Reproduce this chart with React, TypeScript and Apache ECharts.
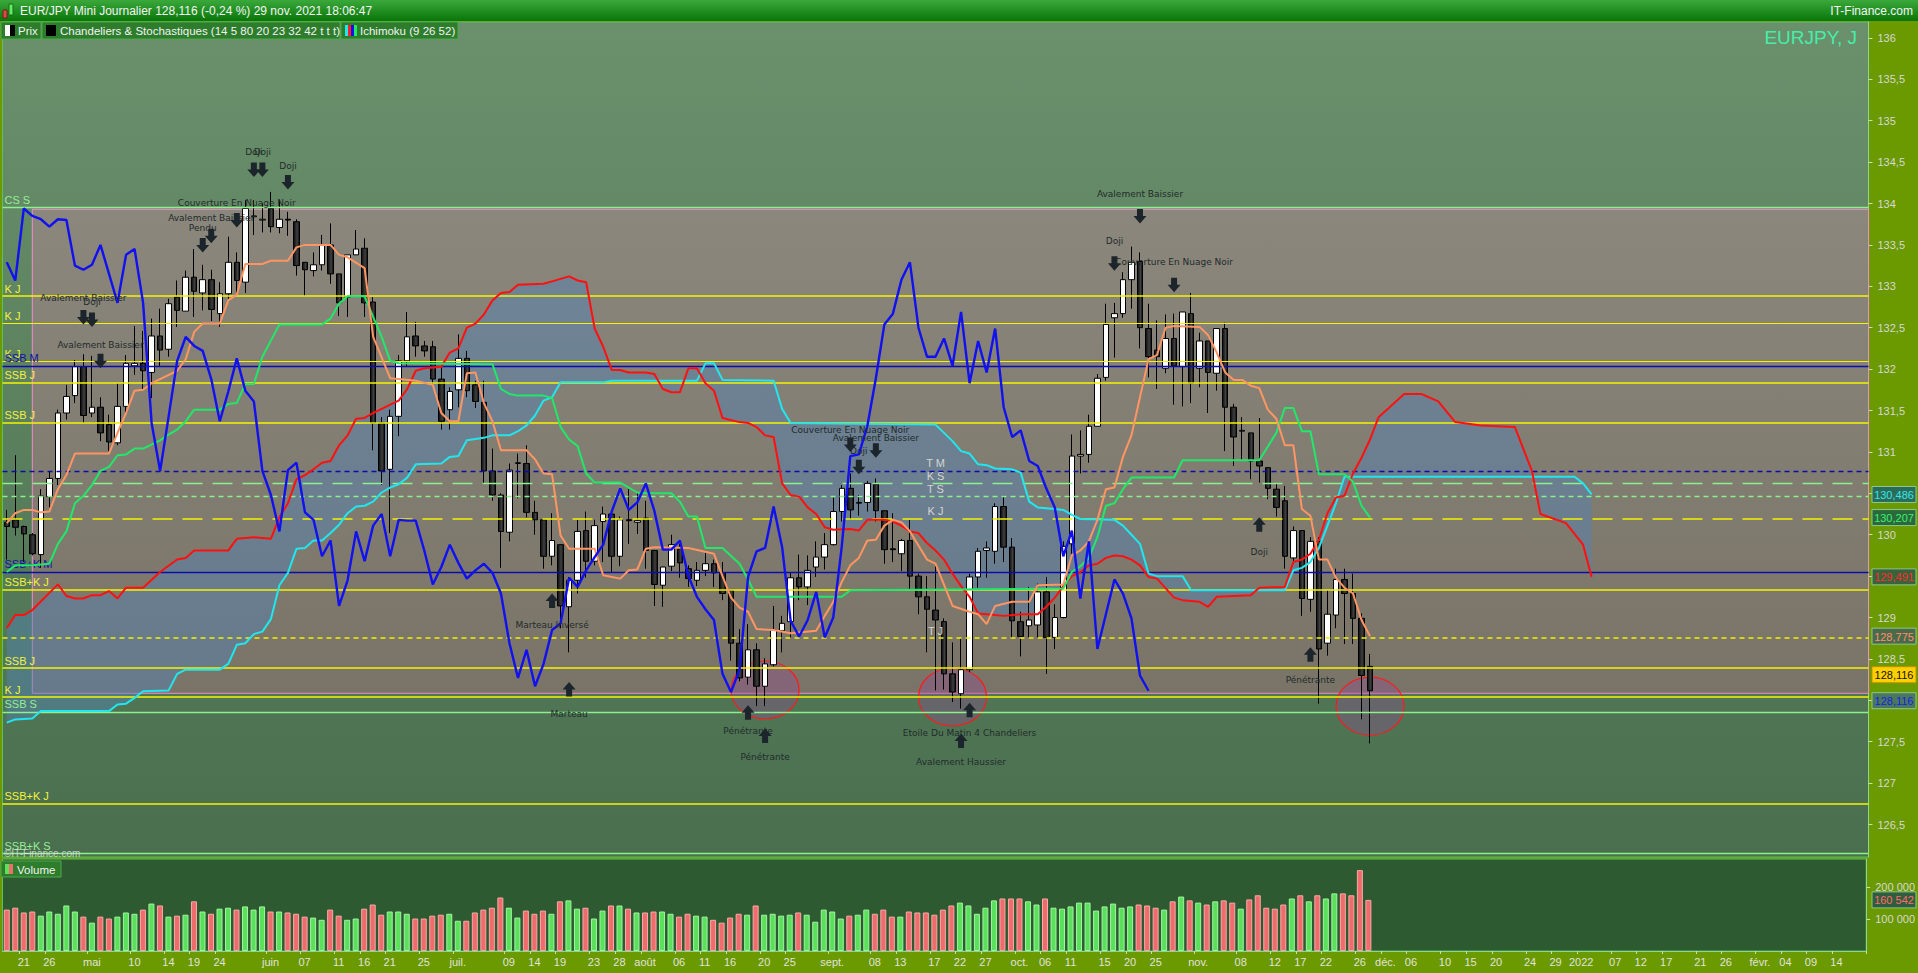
import React, { useEffect, useRef } from 'react';
import * as echarts from 'echarts';

// ---------- DATA ----------
const firstDay = '2021-04-19';
const dayCount = 219; // weekdays shown on the axis (history + future)

// [open, high, low, close]
const candles: number[][] = [
  [130.15,130.30,129.70,130.10],[130.18,130.96,129.99,130.09],[130.10,130.11,129.67,130.01],[130.00,130.02,129.75,129.77],
  [129.76,130.55,129.60,130.47],[130.46,130.77,130.33,130.68],[130.68,131.51,130.60,131.47],[131.47,131.81,131.39,131.67],
  [131.68,132.11,131.59,132.03],[132.03,132.18,131.35,131.44],[131.47,132.16,131.42,131.54],[131.54,131.66,131.13,131.23],
  [131.33,131.45,131.01,131.12],[131.11,131.83,131.08,131.55],[131.55,132.17,131.47,132.07],[132.04,132.52,131.93,132.07],
  [132.07,132.46,131.76,131.98],[131.96,132.61,131.65,132.40],[132.40,132.73,132.03,132.23],[132.24,132.85,132.15,132.79],
  [132.87,133.07,132.51,132.71],[132.70,133.19,132.70,133.11],[133.11,133.45,132.63,132.94],[132.92,133.26,132.71,133.08],
  [133.08,133.20,132.58,132.72],[132.67,133.05,132.51,132.91],[132.91,133.60,132.85,133.29],[133.29,133.41,132.92,133.07],
  [133.05,134.04,132.92,133.94],[133.84,134.04,133.62,133.85],[133.80,134.00,133.65,133.81],[133.94,134.14,133.65,133.72],
  [133.71,134.04,133.64,133.81],[133.81,133.90,133.61,133.80],[133.78,133.81,133.13,133.25],[133.29,133.29,132.88,133.20],
  [133.19,133.41,133.12,133.26],[133.26,133.62,133.19,133.50],[133.50,133.76,133.03,133.15],[133.15,133.15,132.64,132.80],
  [132.87,133.38,132.63,133.38],[133.38,133.68,133.38,133.45],[133.46,133.58,132.63,132.80],[132.81,132.87,131.02,131.35],
  [131.35,131.42,130.60,130.77],[130.79,131.51,130.02,131.43],[131.43,132.17,131.19,132.10],[132.10,132.69,132.03,132.39],
  [132.40,132.57,132.15,132.28],[132.28,132.34,132.15,132.22],[132.27,132.34,131.81,131.88],[131.88,132.05,131.27,131.37],
  [131.51,131.78,131.27,131.73],[131.75,132.42,131.54,132.13],[132.13,132.22,131.66,131.74],[131.81,131.86,131.53,131.61],
  [131.60,131.86,130.61,130.77],[130.77,131.04,130.41,130.48],[130.48,130.50,129.60,130.04],[130.03,130.86,129.92,130.78],
  [130.86,130.98,130.44,130.87],[130.86,131.08,130.21,130.27],[130.27,130.41,130.00,130.18],[130.18,130.18,129.59,129.74],
  [129.74,130.26,129.63,129.93],[129.88,129.88,128.87,129.14],[129.13,129.49,128.58,129.45],[129.45,130.18,129.29,130.04],
  [130.05,130.28,129.48,129.68],[129.68,130.18,129.63,130.11],[130.16,130.34,129.67,130.25],[130.25,130.26,129.55,129.74],
  [129.74,130.22,129.62,130.18],[130.18,130.55,129.89,130.17],[130.15,130.50,130.01,130.17],[130.20,130.41,129.59,129.81],
  [129.81,129.81,129.14,129.40],[129.39,129.61,129.13,129.61],[129.62,130.00,129.56,129.88],[129.83,129.89,129.48,129.66],
  [129.59,129.63,129.37,129.47],[129.45,129.67,129.38,129.57],[129.57,129.80,129.50,129.65],[129.65,129.70,129.37,129.54],
  [129.54,129.67,129.21,129.29],[129.33,129.33,128.48,128.69],[128.69,128.86,128.23,128.27],[128.28,128.92,128.19,128.61],
  [128.61,128.69,127.93,128.17],[128.17,128.51,127.93,128.44],[128.43,129.14,128.41,128.85],[128.84,129.02,128.58,128.93],
  [128.95,129.54,128.75,129.48],[129.48,129.76,129.21,129.37],[129.37,129.75,129.15,129.57],[129.61,129.92,129.49,129.73],
  [129.73,130.02,129.58,129.88],[129.88,130.45,129.87,130.28],[130.28,130.60,130.16,130.56],[130.56,130.74,130.18,130.30],
  [130.38,130.48,130.23,130.39],[130.39,130.65,130.28,130.62],[130.61,130.68,130.16,130.29],[130.29,130.29,129.65,129.82],
  [129.83,130.26,129.67,129.82],[129.77,129.95,129.56,129.93],[129.93,130.18,129.34,129.50],[129.50,129.53,129.04,129.25],
  [129.25,129.50,128.58,129.10],[129.09,129.62,128.12,128.97],[128.95,128.99,128.13,128.32],[128.32,128.70,127.98,128.10],
  [128.08,128.75,127.90,128.37],[128.37,129.53,128.34,129.49],[129.49,129.84,129.36,129.80],[129.81,129.92,129.48,129.84],
  [129.80,130.38,129.65,130.34],[130.34,130.47,129.67,129.85],[129.85,129.96,128.75,128.96],[128.95,129.07,128.53,128.77],
  [128.90,129.37,128.75,128.97],[128.91,129.41,128.75,129.31],[129.31,129.49,128.32,128.76],[128.76,129.16,128.62,129.00],
  [129.00,129.92,128.99,129.86],[129.89,131.21,129.77,130.95],[130.95,131.26,130.74,130.97],[130.97,131.45,130.87,131.31],
  [131.31,131.94,131.31,131.89],[131.90,132.79,131.86,132.54],[132.62,132.80,132.14,132.67],[132.67,133.17,132.62,133.08],
  [133.08,133.48,132.73,133.29],[133.30,133.41,132.25,132.50],[132.49,132.79,131.90,132.15],[132.23,132.59,131.76,132.15],
  [132.01,132.66,131.95,132.37],[132.37,132.67,131.57,132.04],[132.03,132.69,131.55,132.69],[132.67,132.92,131.59,131.83],
  [132.01,132.44,131.78,132.34],[132.34,132.34,131.47,131.96],[131.95,132.49,131.74,132.49],[132.49,132.56,131.01,131.54],
  [131.54,131.58,130.83,131.18],[131.25,131.42,130.89,131.26],[131.23,131.23,130.67,130.89],[130.89,131.41,130.63,130.83],
  [130.81,130.81,130.43,130.56],[130.55,130.62,130.22,130.33],[130.41,130.59,129.59,129.74],[129.72,130.10,129.67,130.05],
  [130.05,130.05,129.02,129.23],[129.22,129.97,129.07,129.92],[129.92,129.97,127.96,128.62],[128.69,129.33,128.54,129.04],
  [129.03,129.59,128.87,129.46],[129.46,129.59,128.68,129.29],[129.29,129.53,128.68,128.99],[128.99,129.05,127.77,128.30],
  [128.41,128.56,127.48,128.116],
];

const volumes: number[] = [
  130000,136000,121000,124000,111000,124000,117000,143000,124000,108000,
  89000,108000,102000,108000,121000,117000,130000,149000,143000,108000,
  111000,114000,156000,124000,117000,133000,136000,130000,140000,130000,
  140000,124000,124000,121000,117000,108000,105000,98000,130000,111000,
  98000,102000,133000,146000,114000,124000,124000,117000,102000,102000,
  111000,114000,117000,95000,95000,121000,130000,136000,168000,136000,
  105000,127000,117000,127000,117000,156000,159000,133000,136000,102000,
  127000,143000,143000,133000,121000,121000,124000,124000,117000,108000,
  117000,111000,108000,98000,89000,105000,117000,114000,143000,114000,
  117000,111000,114000,121000,114000,92000,130000,124000,102000,111000,
  114000,130000,117000,130000,108000,108000,124000,121000,121000,114000,
  130000,143000,152000,143000,117000,136000,159000,165000,165000,165000,
  156000,146000,165000,136000,133000,140000,152000,152000,127000,140000,
  149000,136000,140000,146000,143000,136000,130000,156000,171000,159000,
  152000,146000,156000,159000,152000,133000,162000,175000,136000,133000,
  146000,165000,175000,156000,175000,165000,181000,181000,175000,254000,
  160542,
];

// Ichimoku lines: [candle index, value]
const tenkan: number[][] = [
  [0,130.14],[1,130.26],[2,130.30],[3,130.30],[4,130.27],[5,130.28],[6,130.55],[7,130.72],[8,130.98],[12,130.98],
  [13,131.23],[14,131.47],[15,131.74],[16,131.75],[17,131.83],[18,131.88],[20,131.98],[21,132.12],[22,132.45],[23,132.55],
  [25,132.55],[26,132.83],[27,132.90],[28,133.27],[30,133.27],[31,133.31],[33,133.31],[34,133.47],[35,133.50],[38,133.50],
  [39,133.38],[40,133.35],[42,133.22],[43,132.39],[45,131.89],[46,131.88],[48,131.86],[50,131.81],[51,131.47],[52,131.37],
  [53,131.37],[54,131.95],[55,131.96],[56,131.59],[57,131.37],[58,131.02],[61,131.02],[62,130.91],[63,130.74],[64,130.73],
  [65,129.99],[66,129.83],[69,129.83],[70,129.51],[72,129.47],[73,129.57],[74,129.58],[75,129.83],[76,129.85],[80,129.84],
  [83,129.77],[84,129.50],[85,129.24],[86,129.12],[87,129.07],[88,128.86],[90,128.85],[92,128.81],[95,128.84],[96,129.02],
  [97,129.19],[98,129.43],[99,129.63],[100,129.72],[101,129.93],[102,129.94],[103,130.11],[104,130.18],[105,130.15],[106,130.04],
  [107,129.87],[108,129.70],[109,129.65],[111,129.14],[113,129.07],[114,129.04],[115,128.92],[116,129.14],[118,129.19],[120,129.19],
  [121,129.39],[124,129.40],[125,129.75],[126,129.81],[127,129.92],[128,130.18],[129,130.55],[130,130.57],[131,130.94],[132,131.20],
  [133,131.66],[134,132.12],[135,132.17],[136,132.50],[137,132.52],[140,132.51],[141,132.41],[142,132.20],[143,131.96],[144,131.87],
  [145,131.87],[146,131.80],[147,131.77],[148,131.51],[149,131.40],[150,131.08],[151,131.08],[152,130.31],[153,130.23],[154,129.70],
  [155,129.70],[156,129.48],[157,129.36],[158,129.29],[159,128.97],[160,128.775],
];
const kijun: number[][] = [
  [0,129.55],[1,129.63],[3,129.63],[5,129.65],[6,129.89],[7,130.04],[8,130.38],[9,130.47],[10,130.60],[11,130.77],
  [12,130.82],[13,130.96],[14,130.97],[15,131.04],[16,131.04],[18,131.14],[19,131.21],[20,131.27],[21,131.37],[22,131.51],
  [25,131.51],[26,131.58],[27,131.59],[28,131.82],[29,131.82],[30,132.15],[32,132.54],[37,132.54],[38,132.61],[39,132.79],
  [40,132.88],[42,132.88],[43,132.63],[44,132.39],[45,132.10],[46,132.07],[57,132.06],[58,131.76],[59,131.70],[60,131.68],
  [63,131.68],[64,131.65],[65,131.30],[66,131.15],[67,131.07],[68,130.74],[69,130.63],[72,130.63],[74,130.51],[75,130.50],
  [78,130.50],[79,130.40],[80,130.22],[81,130.22],[82,129.84],[84,129.84],[86,129.65],[87,129.46],[88,129.25],[98,129.25],
  [99,129.33],[124,129.35],[125,129.55],[126,129.62],[127,129.72],[128,129.97],[129,130.35],[130,130.38],[131,130.55],[132,130.69],
  [137,130.69],[138,130.90],[147,130.90],[149,131.23],[150,131.53],[151,131.53],[152,131.25],[153,131.25],[154,130.73],[157,130.73],
  [158,130.64],[159,130.35],[160,130.207],
];
const senkouA: number[][] = [
  [0,128.87],[1,129.03],[2,129.03],[3,129.09],[6,129.40],[7,129.26],[8,129.23],[9,129.23],[10,129.27],[11,129.27],
  [12,129.32],[13,129.23],[14,129.36],[16,129.36],[18,129.55],[20,129.70],[21,129.72],[22,129.81],[26,129.81],[27,129.95],
  [29,129.97],[31,129.95],[32,130.21],[33,130.38],[34,130.67],[35,130.72],[36,130.79],[37,130.87],[38,130.89],[39,131.08],
  [40,131.20],[41,131.40],[42,131.41],[43,131.47],[44,131.52],[45,131.57],[46,131.62],[47,131.76],[48,131.98],[49,132.01],
  [51,132.03],[52,132.20],[53,132.25],[54,132.50],[55,132.55],[56,132.66],[57,132.83],[58,132.92],[59,132.93],[60,133.02],
  [63,133.03],[64,133.06],[65,133.09],[66,133.12],[67,133.07],[68,133.05],[69,132.49],[70,132.27],[71,131.99],[72,131.99],
  [73,131.96],[75,131.96],[76,131.94],[77,131.76],[78,131.72],[79,131.72],[80,132.01],[81,132.01],[82,131.83],[83,131.74],
  [84,131.41],[86,131.36],[87,131.35],[88,131.30],[89,131.20],[90,131.18],[91,130.62],[92,130.48],[93,130.46],[94,130.33],
  [95,130.25],[96,130.09],[97,130.06],[99,130.07],[100,130.05],[101,130.18],[103,130.18],[104,130.16],[105,130.11],[106,130.04],
  [107,130.02],[108,129.90],[109,129.81],[110,129.70],[111,129.53],[112,129.38],[113,129.25],[114,129.05],[115,129.04],[117,129.02],
  [119,129.04],[121,129.04],[122,129.13],[123,129.24],[124,129.38],[125,129.50],[126,129.55],[127,129.63],[128,129.65],[129,129.72],
  [130,129.75],[131,129.74],[132,129.70],[133,129.63],[134,129.49],[135,129.47],[137,129.24],[138,129.21],[140,129.19],[141,129.13],
  [142,129.25],[144,129.26],[146,129.27],[147,129.36],[150,129.37],[151,129.67],[152,129.70],[153,129.77],[154,129.94],[155,130.26],
  [156,130.45],[157,130.47],[158,130.74],[159,130.93],[160,131.15],[161,131.42],[164,131.70],[166,131.70],[168,131.61],[170,131.36],
  [173,131.32],[177,131.30],[179,130.77],[180,130.25],[183,130.14],[185,129.88],[186,129.491],
];
const senkouB: number[][] = [
  [0,127.73],[1,127.77],[3,127.78],[4,127.87],[12,127.87],[13,127.95],[14,127.96],[15,128.03],[16,128.11],[19,128.12],
  [20,128.32],[21,128.37],[25,128.37],[26,128.44],[27,128.67],[28,128.69],[29,128.80],[30,128.83],[31,128.98],[32,129.39],
  [33,129.54],[34,129.83],[35,129.84],[36,129.93],[37,129.93],[38,130.02],[39,130.12],[40,130.26],[41,130.34],[42,130.35],
  [43,130.40],[44,130.51],[45,130.57],[46,130.61],[47,130.69],[48,130.85],[51,130.86],[52,130.94],[53,130.95],[54,131.14],
  [56,131.17],[57,131.20],[59,131.20],[60,131.25],[61,131.32],[62,131.44],[63,131.62],[64,131.66],[65,131.84],[70,131.84],
  [71,131.86],[81,131.86],[82,132.07],[83,132.07],[84,131.87],[90,131.86],[91,131.52],[92,131.35],[109,131.33],[110,131.23],
  [111,131.13],[112,131.01],[113,130.98],[114,130.85],[115,130.84],[116,130.80],[118,130.79],[119,130.75],[120,130.40],[121,130.33],
  [123,130.31],[124,130.30],[125,130.24],[126,130.19],[130,130.18],[131,130.11],[132,130.00],[133,129.89],[134,129.53],[135,129.50],
  [138,129.50],[139,129.33],[150,129.33],[151,129.57],[152,129.60],[153,129.67],[154,129.84],[155,130.11],[156,130.38],[157,130.70],
  [184,130.70],[185,130.62],[186,130.486],
];
const chikouShift = 26;

// horizontal levels: kind J = daily (yellow), S = weekly (green), M = monthly (blue)
const levels = [
  { name: 'CS S', value: 133.95, kind: 'S', dash: 'solid' },
  { name: 'K J', value: 132.885, kind: 'J', dash: 'solid' },
  { name: 'K J', value: 132.546, kind: 'J', dash: 'thin' },
  { name: 'K J', value: 132.085, kind: 'J', dash: 'thin' },
  { name: 'SSB M', value: 132.037, kind: 'M', dash: 'solid' },
  { name: 'SSB J', value: 131.843, kind: 'J', dash: 'solid' },
  { name: 'SSB J', value: 131.348, kind: 'J', dash: 'solid' },
  { name: 'T M', value: 130.766, kind: 'M', dash: 'short' },
  { name: 'K S', value: 130.62, kind: 'S', dash: 'long' },
  { name: 'T S', value: 130.456, kind: 'S', dash: 'short' },
  { name: 'K J', value: 130.194, kind: 'J', dash: 'long' },
  { name: 'SSB+K M', value: 129.549, kind: 'M', dash: 'solid' },
  { name: 'SSB+K J', value: 129.335, kind: 'J', dash: 'solid' },
  { name: 'T J', value: 128.753, kind: 'J', dash: 'short' },
  { name: 'SSB J', value: 128.39, kind: 'J', dash: 'solid' },
  { name: 'K J', value: 128.036, kind: 'J', dash: 'solid' },
  { name: 'SSB S', value: 127.855, kind: 'S', dash: 'solid' },
  { name: 'SSB+K J', value: 126.75, kind: 'J', dash: 'solid' },
  { name: 'SSB+K S', value: 126.15, kind: 'S', dash: 'solid' },
];
const zoneTop = 133.93;
const zoneBottom = 128.085;
const zoneStartIndex = 3;

const patterns = [
  { idx: 9, at: 132.63, dir: 'down', text: 'Avalement Baissier', textAt: 132.86 },
  { idx: 10, at: 132.60, dir: 'down', text: 'Doji', textAt: 132.81 },
  { idx: 11, at: 132.10, dir: 'down', text: 'Avalement Baissier', textAt: 132.29 },
  { idx: 23, at: 133.50, dir: 'down', text: 'Pendu', textAt: 133.70 },
  { idx: 24, at: 133.61, dir: 'down', text: 'Avalement Baissier', textAt: 133.83 },
  { idx: 27, at: 133.80, dir: 'down', text: 'Couverture En Nuage Noir', textAt: 134.01 },
  { idx: 29, at: 134.41, dir: 'down', text: 'Doji', textAt: 134.62 },
  { idx: 30, at: 134.41, dir: 'down', text: 'Doji', textAt: 134.62 },
  { idx: 33, at: 134.26, dir: 'down', text: 'Doji', textAt: 134.45 },
  { idx: 64, at: 129.20, dir: 'up', text: 'Marteau Inversé', textAt: 128.91 },
  { idx: 66, at: 128.13, dir: 'up', text: 'Marteau', textAt: 127.83 },
  { idx: 87, at: 127.85, dir: 'up', text: 'Pénétrante', textAt: 127.63 },
  { idx: 89, at: 127.57, dir: 'up', text: 'Pénétrante', textAt: 127.32 },
  { idx: 99, at: 131.09, dir: 'down', text: 'Couverture En Nuage Noir', textAt: 131.27 },
  { idx: 100, at: 130.82, dir: 'down', text: 'Doji', textAt: 131.01 },
  { idx: 102, at: 131.02, dir: 'down', text: 'Avalement Baissier', textAt: 131.17 },
  { idx: 112, at: 127.51, dir: 'up', text: 'Avalement Haussier', textAt: 127.25 },
  { idx: 113, at: 127.88, dir: 'up', text: 'Etoile Du Matin 4 Chandeliers', textAt: 127.61 },
  { idx: 130, at: 133.28, dir: 'down', text: 'Doji', textAt: 133.55 },
  { idx: 133, at: 133.85, dir: 'down', text: 'Avalement Baissier', textAt: 134.12 },
  { idx: 137, at: 133.02, dir: 'down', text: 'Couverture En Nuage Noir', textAt: 133.29 },
  { idx: 147, at: 130.12, dir: 'up', text: 'Doji', textAt: 129.79 },
  { idx: 153, at: 128.55, dir: 'up', text: 'Pénétrante', textAt: 128.24 },
];
const circles: number[][] = [[89.06, 128.125], [111.2, 128.04], [160, 127.93]];

const tickLabels: string[][] = [
  ['2021-04-21','21'],['2021-04-26','26'],['2021-05-03','mai'],['2021-05-10','10'],['2021-05-14','14'],['2021-05-19','19'],
  ['2021-05-24','24'],['2021-06-01','juin'],['2021-06-07','07'],['2021-06-11','11'],['2021-06-16','16'],['2021-06-21','21'],
  ['2021-06-25','25'],['2021-07-01','juil.'],['2021-07-09','09'],['2021-07-14','14'],['2021-07-19','19'],['2021-07-23','23'],
  ['2021-07-28','28'],['2021-08-02','août'],['2021-08-06','06'],['2021-08-11','11'],['2021-08-16','16'],['2021-08-20','20'],
  ['2021-08-25','25'],['2021-09-01','sept.'],['2021-09-08','08'],['2021-09-13','13'],['2021-09-17','17'],['2021-09-22','22'],
  ['2021-09-27','27'],['2021-10-01','oct.'],['2021-10-06','06'],['2021-10-11','11'],['2021-10-15','15'],['2021-10-20','20'],
  ['2021-10-25','25'],['2021-11-01','nov.'],['2021-11-08','08'],['2021-11-12','12'],['2021-11-17','17'],['2021-11-22','22'],
  ['2021-11-26','26'],['2021-12-01','déc.'],['2021-12-06','06'],['2021-12-10','10'],['2021-12-15','15'],['2021-12-20','20'],
  ['2021-12-24','24'],['2021-12-29','29'],['2022-01-03','2022'],['2022-01-07','07'],['2022-01-12','12'],['2022-01-17','17'],
  ['2022-01-21','21'],['2022-01-26','26'],['2022-02-01','févr.'],['2022-02-04','04'],['2022-02-09','09'],['2022-02-14','14'],
];
// price ticks whose labels sit under a value badge in the reference
const hiddenPriceTicks = [130.5, 129.5, 128];

const badges = [
  { value: 130.486, text: '130,486', axis: 0, bg: '#2b6b5b', fg: '#38e6e6', shift: 0 },
  { value: 130.207, text: '130,207', axis: 0, bg: '#2b683b', fg: '#3cf070', shift: 0 },
  { value: 129.491, text: '129,491', axis: 0, bg: '#3b633b', fg: '#ff2a2a', shift: 0 },
  { value: 128.775, text: '128,775', axis: 0, bg: '#4b6a4b', fg: '#ff9068', shift: 0 },
  { value: 128.116, text: '128,116', axis: 0, bg: '#ffd000', fg: '#111111', shift: -16 },
  { value: 128.116, text: '128,116', axis: 0, bg: '#4a785a', fg: '#1a1af0', shift: 10 },
  { value: 160542, text: '160 542', axis: 1, bg: '#2f5d3d', fg: '#ff6a6a', shift: 0 },
];

// ---------- HELPERS ----------
function buildDates(): string[] {
  const out: string[] = [];
  const [y, m, d] = firstDay.split('-').map(Number);
  const dt = new Date(Date.UTC(y, m - 1, d));
  while (out.length < dayCount) {
    const wd = dt.getUTCDay();
    if (wd !== 0 && wd !== 6) out.push(dt.toISOString().slice(0, 10));
    dt.setUTCDate(dt.getUTCDate() + 1);
  }
  return out;
}

const kindColor: any = { J: '#f4f400', S: '#8cf08c', M: '#0c0ca8' };
const kindLabel: any = { J: '#f2f23c', S: '#94ee94', M: '#1212a4' };
const dashType: any = { solid: 'solid', thin: 'solid', short: [5, 4], long: [20, 10] };

export default function App() {
  const ref = useRef<HTMLDivElement>(null);

  useEffect(() => {
    document.body.style.margin = '0';
    const chart = echarts.init(ref.current!, null, { renderer: 'svg' });
    const dates = buildDates();
    const labelMap = new Map(tickLabels.map((t) => [t[0], t[1]]));
    const showTick = (i: number, v: string) => labelMap.has(v);
    const closes = candles.map((c) => c[3]);
    const chikou = closes.slice(chikouShift).map((c, i) => [i, c]);
    const font = 'Liberation Sans';

    const priceBg = new echarts.graphic.LinearGradient(0, 0, 0, 1, [
      { offset: 0, color: '#6b906c' }, { offset: 1, color: '#4a6f4f' },
    ]);
    const zoneFill = new echarts.graphic.LinearGradient(0, 0, 0, 1, [
      { offset: 0, color: '#8b877c' }, { offset: 1, color: '#7a7468' },
    ]);
    const bearFill = new echarts.graphic.LinearGradient(0, 0, 1, 0, [
      { offset: 0, color: '#0a0a0a' }, { offset: 0.6, color: '#404040' }, { offset: 1, color: '#0a0a0a' },
    ]);

    const lineSeries = (data: number[][], color: string, width: number) => ({
      type: 'line', xAxisIndex: 0, yAxisIndex: 0, data, symbol: 'none', showSymbol: false,
      lineStyle: { color, width }, z: 6, silent: true,
    });

    const option: any = {
      animation: false,
      backgroundColor: '#6a9900',
      textStyle: { fontFamily: font },
      grid: [
        { left: 2.5, right: 49.5, top: 22, height: 835, show: true, backgroundColor: priceBg, borderColor: '#5cc05c', borderWidth: 1 },
        { left: 2.5, right: 49.5, top: 859, height: 92, show: true, backgroundColor: '#2d5a31', borderColor: '#5cc05c', borderWidth: 1 },
      ],
      xAxis: [
        { type: 'category', gridIndex: 0, data: dates, boundaryGap: true, axisLabel: { show: false }, axisTick: { show: false }, axisLine: { show: false }, splitLine: { show: false } },
        {
          type: 'category', gridIndex: 1, data: dates, boundaryGap: true,
          axisLine: { show: true, lineStyle: { color: '#8fd48f' } },
          axisTick: { show: true, interval: showTick, length: 3, lineStyle: { color: '#c8e0a0' } },
          axisLabel: { interval: showTick, formatter: (v: string) => labelMap.get(v) || '', color: '#e2e2da', fontSize: 11, margin: 5, fontFamily: font },
          splitLine: { show: false },
        },
      ],
      yAxis: [
        {
          type: 'value', gridIndex: 0, position: 'right', min: 126.108, max: 136.192, splitNumber: 20,
          axisLine: { show: true, lineStyle: { color: '#8fd48f' } },
          axisTick: { show: true, length: 4, lineStyle: { color: '#c8e0a0' } },
          axisLabel: { color: '#d8d8d0', fontSize: 11, margin: 9, fontFamily: font, showMinLabel: false, showMaxLabel: false,
            formatter: (v: number) => (hiddenPriceTicks.some((h) => Math.abs(h - v) < 1e-6) ? '' : String(v).replace('.', ',')) },
          splitLine: { show: false },
        },
        {
          type: 'value', gridIndex: 1, position: 'right', min: 0, max: 289000, interval: 100000,
          axisLine: { show: true, lineStyle: { color: '#8fd48f' } },
          axisTick: { show: true, length: 4, lineStyle: { color: '#c8e0a0' } },
          axisLabel: { color: '#d8d8d0', fontSize: 11, margin: 9, fontFamily: font, showMinLabel: false, showMaxLabel: false,
            formatter: (v: number) => String(v).replace(/\B(?=(\d{3})+(?!\d))/g, ' ') },
          splitLine: { show: false },
        },
      ],
      series: [
        {
          type: 'custom', xAxisIndex: 0, yAxisIndex: 0, z: 1, silent: true, data: [[0, 0]],
          renderItem: (params: any, api: any) => {
            const cs = params.coordSys;
            const tl = api.coord([zoneStartIndex, zoneTop]);
            const bl = api.coord([zoneStartIndex, zoneBottom]);
            const pts = [
              ...senkouA.map((p) => api.coord(p)),
              ...senkouB.slice().reverse().map((p) => api.coord(p)),
            ];
            return {
              type: 'group',
              children: [
                { type: 'rect', shape: { x: tl[0], y: tl[1], width: cs.x + cs.width - tl[0], height: bl[1] - tl[1] },
                  style: { fill: zoneFill, stroke: '#f08ccc', lineWidth: 1 } },
                { type: 'polygon', shape: { points: pts }, style: { fill: 'rgba(80,131,185,0.45)' } },
              ],
            };
          },
        },
        {
          type: 'custom', xAxisIndex: 0, yAxisIndex: 0, z: 2, silent: true, data: circles,
          renderItem: (params: any, api: any) => {
            const p = api.coord([api.value(0), api.value(1)]);
            return { type: 'ellipse', shape: { cx: p[0], cy: p[1], rx: 34, ry: 29 },
              style: { fill: 'rgba(155,65,157,0.3)', stroke: '#ff1a1a', lineWidth: 1.2 } };
          },
        },
        {
          type: 'line', xAxisIndex: 0, yAxisIndex: 0, data: [], z: 3, silent: true,
          markLine: {
            silent: true, symbol: 'none', animation: false,
            data: levels.map((l) => {
              const mid = l.dash === 'short' || l.dash === 'long';
              return {
                yAxis: l.value,
                lineStyle: { color: kindColor[l.kind], width: l.dash === 'thin' ? 1 : l.kind === 'J' ? 1.6 : 1.3, type: dashType[l.dash] },
                label: {
                  show: true, formatter: l.name, position: mid ? 'insideMiddleTop' : 'insideStartTop',
                  color: mid ? '#d4d4d0' : kindLabel[l.kind], fontSize: 11, fontFamily: font, distance: 2,
                },
              };
            }),
          },
        },
        {
          type: 'candlestick', xAxisIndex: 0, yAxisIndex: 0, z: 4, barWidth: 6,
          data: candles.map((c) => [c[0], c[3], c[2], c[1]]),
          itemStyle: { color: '#ffffff', color0: bearFill, borderColor: '#000000', borderColor0: '#000000', borderWidth: 1 },
        },
        lineSeries(senkouB, '#22e6ee', 2),
        lineSeries(senkouA, '#ff1010', 2),
        lineSeries(kijun, '#20e868', 2),
        lineSeries(tenkan, '#ff9562', 2),
        lineSeries(chikou, '#1010f0', 2.4),
        {
          type: 'custom', xAxisIndex: 0, yAxisIndex: 0, z: 8, silent: true,
          data: patterns.map((a) => [a.idx, a.at]),
          renderItem: (params: any, api: any) => {
            const a = patterns[params.dataIndex];
            const [x, y] = api.coord([a.idx, a.at]);
            const [tx, ty] = api.coord([a.idx, a.textAt]);
            const s = a.dir === 'down' ? 1 : -1;
            const pts = [[x - 3, y - 7 * s], [x + 3, y - 7 * s], [x + 3, y], [x + 6.5, y], [x, y + 7.5 * s], [x - 6.5, y], [x - 3, y]];
            return {
              type: 'group',
              children: [
                { type: 'polygon', shape: { points: pts }, style: { fill: '#1c252c' } },
                { type: 'text', x: tx, y: ty, style: { text: a.text, fill: '#222b2b', font: '9px "DejaVu Sans"', align: 'center', verticalAlign: 'middle' } },
              ],
            };
          },
        },
        {
          type: 'bar', xAxisIndex: 1, yAxisIndex: 1, barWidth: 6,
          data: volumes.map((v, i) => {
            const up = candles[i][3] >= candles[i][0];
            return { value: v, itemStyle: up ? { color: '#5ae05a', borderColor: '#a4f4a4', borderWidth: 1 } : { color: '#ee6c6c', borderColor: '#f8aaaa', borderWidth: 1 } };
          }),
        },
      ],
    };
    chart.setOption(option);

    const titleGrad = new echarts.graphic.LinearGradient(0, 0, 0, 1, [
      { offset: 0, color: '#3aa83a' }, { offset: 1, color: '#0a760a' },
    ]);
    const box = (x: number, y: number, w: number, h: number) => ({
      type: 'rect', z: 100, shape: { x, y, width: w, height: h }, style: { fill: '#2d7d2d', stroke: '#4fa94f', lineWidth: 1 },
    });
    const sq = (x: number, y: number, w: number, h: number, fill: string, stroke?: string) => ({
      type: 'rect', z: 101, shape: { x, y, width: w, height: h }, style: stroke ? { fill, stroke } : { fill },
    });
    const txt = (x: number, y: number, text: string, size: number, fill: string, align = 'left') => ({
      type: 'text', z: 102, x, y, style: { text, fill, font: `${size}px "${font}"`, align, verticalAlign: 'middle' },
    });

    const badgeEls = badges.map((b) => {
      const py = chart.convertToPixel({ yAxisIndex: b.axis } as any, b.value) as number;
      return {
        type: 'group', z: 110, x: 1872, y: py + b.shift - 8,
        children: [
          { type: 'rect', z: 110, shape: { x: 0, y: 0, width: 44, height: 16 }, style: { fill: b.bg, stroke: b.bg === '#ffd000' ? '#c09000' : '#8cc88c', lineWidth: 1 } },
          { type: 'text', z: 111, x: 22, y: 8.5, style: { text: b.text, fill: b.fg, font: `11px "${font}"`, align: 'center', verticalAlign: 'middle' } },
        ],
      };
    });

    chart.setOption({
      graphic: [
        { type: 'rect', z: 100, shape: { x: 0, y: 0, width: 1918, height: 21 }, style: { fill: titleGrad } },
        sq(3, 10, 4, 8, '#e04a4a', '#7a1a1a'),
        sq(9, 4, 4, 11, '#5ef05e', '#1a6a1a'),
        txt(20, 10.5, 'EUR/JPY Mini Journalier 128,116 (-0,24 %) 29 nov. 2021 18:06:47', 12, '#f4f4f4'),
        txt(1913, 10.5, 'IT-Finance.com', 12, '#f4f4f4', 'right'),
        box(1, 22, 40, 17),
        sq(5, 25, 5, 11, '#ffffff'),
        sq(10, 25, 5, 11, '#000000'),
        txt(18, 31, 'Prix', 11.5, '#f2f2f2'),
        box(42, 22, 298, 17),
        sq(46, 25, 10, 11, '#000000'),
        txt(60, 31, 'Chandeliers & Stochastiques (14 5 80 20 23 32 42 t t t)', 11.5, '#f2f2f2'),
        box(341, 22, 117, 17),
        sq(345, 25, 3, 11, '#22e6ee'),
        sq(348, 25, 3, 11, '#ff2020'),
        sq(351, 25, 3, 11, '#1010f0'),
        sq(354, 25, 3, 11, '#20e868'),
        txt(360, 31, 'Ichimoku (9 26 52)', 11.5, '#f2f2f2'),
        txt(1857, 37, 'EURJPY, J', 19, '#44eea8', 'right'),
        txt(4, 853, '©IT-Finance.com', 10, 'rgba(235,235,235,0.75)'),
        box(1, 861, 60, 16),
        sq(5, 864, 4, 10, '#5ae05a'),
        sq(9, 864, 4, 10, '#ee6c6c'),
        txt(17, 869.5, 'Volume', 11.5, '#f2f2f2'),
        ...badgeEls,
      ],
    });

    return () => chart.dispose();
  }, []);

  return <div ref={ref} style={{ width: 1918, height: 973 }} />;
}
